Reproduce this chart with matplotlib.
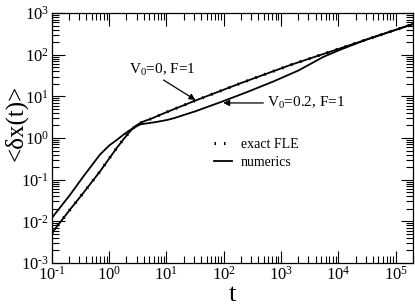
import numpy as np
import matplotlib
matplotlib.use("Agg")
import matplotlib.pyplot as plt
from matplotlib.ticker import LogLocator, FuncFormatter, NullFormatter

# values (log10 of t and of <dx(t)>)
logt_v0 = [-1.0, -0.686, -0.454, -0.162, 0.129, 0.25, 0.361, 0.45, 0.536, 0.62, 0.71,
           1.0, 1.505, 2.289, 3.16, 4.031, 5.338]
logy_v0 = [-2.283, -1.724, -1.324, -0.806, -0.245, -0.03, 0.154, 0.28, 0.355, 0.41, 0.451,
           0.62, 0.90, 1.314, 1.753, 2.153, 2.753]

logt_v02 = [-1.0, -0.686, -0.454, -0.162, 0.0, 0.129, 0.25, 0.361, 0.45, 0.547, 0.65, 0.8,
            1.0, 1.127, 1.5, 1.941, 2.4, 2.869, 3.3, 3.74, 4.031, 4.5, 5.338]
logy_v02 = [-1.92, -1.37, -0.93, -0.40, -0.18, -0.05, 0.08, 0.19, 0.26, 0.33, 0.35, 0.38,
            0.43, 0.475, 0.64, 0.86, 1.10, 1.36, 1.62, 1.95, 2.12, 2.37, 2.753]

t_v0 = 10 ** np.array(logt_v0)
y_v0 = 10 ** np.array(logy_v0)
t_v02 = 10 ** np.array(logt_v02)
y_v02 = 10 ** np.array(logy_v02)

plt.rcParams['font.family'] = ['Liberation Serif', 'DejaVu Serif']
plt.rcParams['mathtext.fontset'] = 'custom'
plt.rcParams['mathtext.rm'] = 'Liberation Serif'
plt.rcParams['mathtext.it'] = 'Liberation Serif:italic'


def pow_label(v, pos):
    # short hyphen for the minus, as in the original plot
    e = int(round(np.log10(v)))
    sign = '\u2010' if e < 0 else ''
    return r'$10^{%s%d}$' % (sign, abs(e))


fig = plt.figure(figsize=(4.15, 3.05), dpi=100)
ax = fig.add_axes([0.125, 0.138, 0.87, 0.819])

dots = (0, (0.5, 2.6))
ax.plot(t_v0, y_v0, color='black', lw=1.3)
ax.plot(t_v02, y_v02, color='black', lw=1.3)
ax.plot(t_v0, y_v0, color='black', lw=2.2, linestyle=dots)

ax.set_xscale('log')
ax.set_yscale('log')
ax.set_xlim(0.1, 2e5)
ax.set_ylim(1e-3, 1e3)

for axis in (ax.xaxis, ax.yaxis):
    axis.set_major_locator(LogLocator(base=10, numticks=20))
    axis.set_minor_locator(LogLocator(base=10, subs=np.arange(2, 10), numticks=100))
    axis.set_minor_formatter(NullFormatter())
    axis.set_major_formatter(FuncFormatter(pow_label))

ax.tick_params(which='both', direction='in', top=True, right=True, width=0.8,
               labelsize=12, pad=2)
ax.tick_params(which='major', length=9)
ax.tick_params(which='minor', length=5)
for s in ax.spines.values():
    s.set_linewidth(0.9)

ax.set_xlabel('t', fontsize=19)
ax.xaxis.set_label_coords(0.5, -0.083)
ax.set_ylabel('<δx(t)>', fontsize=18)
ax.yaxis.set_label_coords(-0.068, 0.56)

# annotations
ax.text(10 ** 0.338, 10 ** 1.633, 'V$_0$=0, F=1', fontsize=11, ha='left', va='center')
ax.annotate('', xy=(10 ** 1.505, 10 ** 0.914), xytext=(10 ** 0.948, 10 ** 1.393),
            arrowprops=dict(arrowstyle='-|>', color='black', lw=0.9, mutation_scale=9,
                            shrinkA=0, shrinkB=0))
ax.text(10 ** 2.76, 10 ** 0.842, 'V$_0$=0.2, F=1', fontsize=11, ha='left', va='center')
ax.annotate('', xy=(10 ** 1.99, 10 ** 0.842), xytext=(10 ** 2.69, 10 ** 0.842),
            arrowprops=dict(arrowstyle='-|>', color='black', lw=0.9, mutation_scale=9,
                            shrinkA=0, shrinkB=0))

# legend
h1, = ax.plot([], [], color='black', lw=2.2, linestyle=dots)
h2, = ax.plot([], [], color='black', lw=1.3)
ax.legend([h1, h2], ['exact FLE', 'numerics'], loc='upper left',
          bbox_to_anchor=(0.415, 0.55), frameon=False, fontsize=10,
          handlelength=1.3, handletextpad=0.6, labelspacing=0.35)

fig.savefig('out.png', dpi=100)
